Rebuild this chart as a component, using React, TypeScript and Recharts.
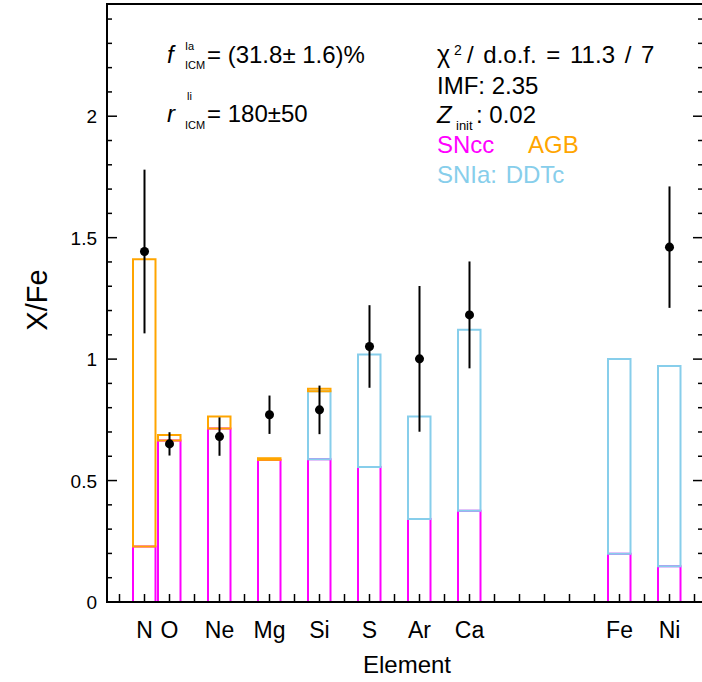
import { ComposedChart, Bar, Scatter, ErrorBar, XAxis, YAxis } from 'recharts'

// elements on the x axis, placed at their atomic number
const elements = ['N', 'O', 'Ne', 'Mg', 'Si', 'S', 'Ar', 'Ca', 'Fe', 'Ni']
const atomicNumber = [7, 8, 10, 12, 14, 16, 18, 20, 26, 28]

// model contributions (stacked boxes)
const sncc = [0.229, 0.665, 0.714, 0.585, 0.588, 0.556, 0.342, 0.376, 0.199, 0.147]
const snia = [0, 0, 0, 0, 0.28, 0.463, 0.422, 0.745, 0.801, 0.825]
const agb = [1.182, 0.023, 0.05, 0.007, 0.01, 0, 0, 0, 0, 0]

// measured X/Fe with 1 sigma errors (Fe is the reference, no point)
const obsZ = [7, 8, 10, 12, 14, 16, 18, 20, 28]
const obsValue = [1.443, 0.651, 0.681, 0.771, 0.791, 1.052, 1.001, 1.182, 1.461]
const obsError = [0.337, 0.048, 0.079, 0.079, 0.1, 0.17, 0.3, 0.22, 0.25]

const yMajor = [0, 0.5, 1, 1.5, 2]
const yTicks = Array.from({ length: 25 }, (_, i) => i / 10)
const xTicks = Array.from({ length: 24 }, (_, i) => i + 6)
const xDomain = [5.5, 29.34]
const yDomain = [0, 2.462]

const MAGENTA = '#ff00ff'
const ORANGE = '#ffa500'
const SKY = '#87ceeb'
const FONT = '"Liberation Sans", Arial, Helvetica, sans-serif'

// plot box in pixels (margins + axis sizes below)
const PLOT = { left: 107, top: 4, width: 596, height: 598 }

const bars = atomicNumber.map((z, i) => ({ z, sncc: sncc[i], snia: snia[i], agb: agb[i] }))
const obs = obsZ.map((z, i) => ({ z, v: obsValue[i], err: obsError[i] }))

function BottomTick(props: any) {
  const { x, y, payload } = props
  const i = atomicNumber.indexOf(payload.value)
  return (
    <g>
      <line x1={x} x2={x} y1={y} y2={y - 8} stroke="#000" strokeWidth={1.5} />
      {i >= 0 && (
        <text x={x} y={y + 36} textAnchor="middle" fontSize={23} fontFamily={FONT} fill="#000">
          {elements[i]}
        </text>
      )}
    </g>
  )
}

function TopTick(props: any) {
  const { x, y } = props
  return <line x1={x} x2={x} y1={y} y2={y + 8} stroke="#000" strokeWidth={1.5} />
}

function LeftTick(props: any) {
  const { x, y, payload } = props
  const major = yMajor.includes(payload.value)
  return (
    <g>
      <line x1={x} x2={x + (major ? 10 : 5)} y1={y} y2={y} stroke="#000" strokeWidth={1.5} />
      {major && (
        <text x={x - 10} y={y + 7} textAnchor="end" fontSize={19} fontFamily={FONT} fill="#000">
          {payload.value}
        </text>
      )}
    </g>
  )
}

function RightTick(props: any) {
  const { x, y, payload } = props
  const major = yMajor.includes(payload.value)
  return <line x1={x} x2={x - (major ? 10 : 5)} y1={y} y2={y} stroke="#000" strokeWidth={1.5} />
}

export default function App() {
  return (
    <div style={{ position: 'absolute', left: 0, top: 0, width: 702, height: 682, overflow: 'hidden', background: '#fff' }}>
      <div style={{ position: 'absolute', left: 0, top: 0 }}>
        <ComposedChart width={720} height={682} data={bars} margin={{ top: PLOT.top, right: 0, left: 0, bottom: 0 }} barGap={0}>
          <XAxis
            dataKey="z"
            type="number"
            domain={xDomain}
            allowDataOverflow
            ticks={xTicks}
            interval={0}
            height={80}
            tickSize={0}
            tickMargin={0}
            tick={BottomTick}
            axisLine={false}
          />
          <XAxis
            xAxisId="top"
            orientation="top"
            dataKey="z"
            type="number"
            domain={xDomain}
            allowDataOverflow
            ticks={xTicks}
            interval={0}
            height={0}
            tickSize={0}
            tickMargin={0}
            tick={TopTick}
            axisLine={false}
          />
          <YAxis
            type="number"
            domain={yDomain}
            allowDataOverflow
            ticks={yTicks}
            interval={0}
            width={PLOT.left}
            tickSize={0}
            tickMargin={0}
            tick={LeftTick}
            axisLine={false}
          />
          <YAxis
            yAxisId="right"
            orientation="right"
            type="number"
            domain={yDomain}
            allowDataOverflow
            ticks={yTicks}
            interval={0}
            width={17}
            tickSize={0}
            tickMargin={0}
            tick={RightTick}
            axisLine={false}
          />
          <Bar dataKey="sncc" stackId="a" barSize={25} fill="none" stroke={MAGENTA} strokeWidth={2} isAnimationActive={false} />
          <Bar dataKey="snia" stackId="a" barSize={25} fill="none" stroke={SKY} strokeWidth={2} isAnimationActive={false} />
          <Bar dataKey="agb" stackId="a" barSize={25} fill="none" stroke={ORANGE} strokeWidth={2} isAnimationActive={false} />
          <Scatter data={obs} dataKey="v" fill="#000" isAnimationActive={false}>
            <ErrorBar dataKey="err" direction="y" width={0} stroke="#000" strokeWidth={2} isAnimationActive={false} />
          </Scatter>
        </ComposedChart>
      </div>
      <svg width={702} height={682} style={{ position: 'absolute', left: 0, top: 0, pointerEvents: 'none' }} fontFamily={FONT}>
        {/* plot frame, drawn last so nothing can hide it */}
        <rect x={PLOT.left} y={PLOT.top} width={PLOT.width} height={PLOT.height} fill="none" stroke="#000" strokeWidth={2} />
        {/* left annotations */}
        <text x={167} y={63} fontSize={24} fontStyle="italic">f</text>
        <text x={185} y={50} fontSize={11}>Ia</text>
        <text x={185} y={69} fontSize={11}>ICM</text>
        <text x={207} y={63} fontSize={24}>= (31.8± 1.6)%</text>
        <text x={167} y={122} fontSize={24} fontStyle="italic">r</text>
        <text x={187} y={100} fontSize={11}>li</text>
        <text x={185} y={129} fontSize={11}>ICM</text>
        <text x={207} y={122} fontSize={24}>= 180±50</text>
        {/* right annotations */}
        <text x={437} y={63} fontSize={25}>χ</text>
        <text x={454} y={55} fontSize={14}>2</text>
        <text x={467} y={63} fontSize={24} wordSpacing={3}>/ d.o.f. = 11.3 / 7</text>
        <text x={437} y={94} fontSize={24}>IMF: 2.35</text>
        <text x={437} y={123} fontSize={24} fontStyle="italic">Z</text>
        <text x={456} y={130} fontSize={13}>init</text>
        <text x={476} y={123} fontSize={24}>: 0.02</text>
        <text x={437} y={153} fontSize={24} fill={MAGENTA}>SNcc</text>
        <text x={528} y={153} fontSize={24} fill={ORANGE}>AGB</text>
        <text x={437} y={183} fontSize={24} fill={SKY} wordSpacing={2}>SNIa: DDTc</text>
        {/* axis titles */}
        <text x={407} y={673} fontSize={24} textAnchor="middle">Element</text>
        <text x={47} y={300} fontSize={29} textAnchor="middle" transform="rotate(-90 47 300)">X/Fe</text>
      </svg>
    </div>
  )
}
